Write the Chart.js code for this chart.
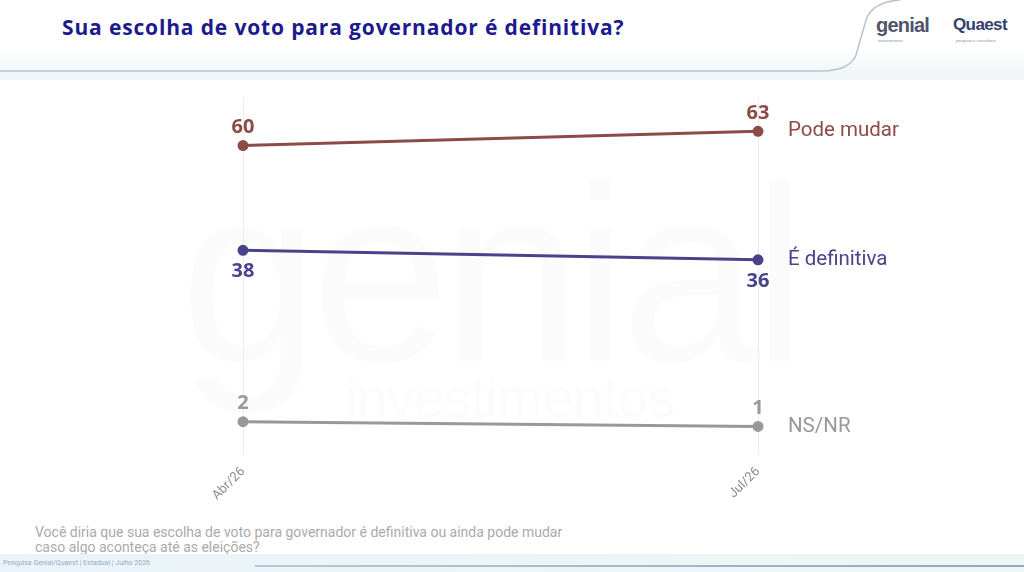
<!DOCTYPE html>
<html>
<head>
<meta charset="utf-8">
<script src="https://cdn.jsdelivr.net/npm/chart.js@4.4.1/dist/chart.umd.min.js"></script>
<style>
  html, body { margin: 0; padding: 0; }
  body { width: 1024px; height: 572px; position: relative; overflow: hidden; background: #fff; font-family: Roboto, 'Noto Sans', sans-serif; }
  .header-bg { position: absolute; left: 0; top: 0; width: 1024px; height: 80px; background: linear-gradient(180deg, #fff 0%, #fff 60%, #eef4f8 100%); }
  .title { position: absolute; left: 62px; top: 13px; font-size: 21px; font-weight: 700; color: #1c1a8e; font-family: 'Open Sans', sans-serif; letter-spacing: 0.85px; }
  .logo-genial { position: absolute; left: 876px; top: 14px; font-size: 20px; font-weight: 700; color: #50556c; font-family: 'Liberation Sans', sans-serif; letter-spacing: -0.8px; }
  .logo-quaest { position: absolute; left: 953px; top: 15px; font-size: 17px; font-weight: 700; color: #33406e; font-family: 'Liberation Sans', sans-serif; letter-spacing: -0.6px; }
  .logo-sub { position: absolute; top: 38px; font-size: 4px; color: #8890a8; font-family: 'Liberation Sans', sans-serif; }
  .watermark { position: absolute; left: 180px; top: 150px; font-size: 250px; font-weight: 400; color: rgba(0,0,0,0.017); font-family: 'Liberation Sans', sans-serif; letter-spacing: -8px; line-height: 1; }
  .watermark2 { position: absolute; left: 345px; top: 365px; font-size: 56px; color: rgba(0,0,0,0.017); font-family: 'Liberation Sans', sans-serif; letter-spacing: -1px; }
  .question { position: absolute; left: 35px; top: 525px; font-size: 14px; line-height: 15px; color: #aaa; }
  .footer-bg { position: absolute; left: 0; top: 554px; width: 1024px; height: 18px; background: linear-gradient(90deg, #eaf3f9 0%, #eef6f4 100%); }
  .footer-text { position: absolute; left: 3px; top: 559px; font-size: 7px; color: #9ab; }
  .footer-line { position: absolute; left: 255px; top: 565px; width: 769px; height: 2px; background: linear-gradient(90deg, #b8c8d6, #8fa8bc); }
  canvas { position: absolute; left: 0; top: 0; }
</style>
</head>
<body>
<div class="header-bg"></div>
<svg style="position:absolute;left:0;top:0" width="1024" height="80">
  <path d="M0 71 L820 71 Q850 71 856 55 L866 20 Q872 2 900 0" fill="none" stroke="#b9c3cc" stroke-width="1.5"/>
</svg>
<div class="title">Sua escolha de voto para governador é definitiva?</div>
<div class="logo-genial">genial</div>
<div class="logo-quaest">Quaest</div>
<div class="logo-sub" style="left:878px">investimentos</div>
<div class="logo-sub" style="left:956px">pesquisa e consultoria</div>
<div class="watermark">genial</div>
<div class="watermark2">investimentos</div>
<div class="question">Você diria que sua escolha de voto para governador é definitiva ou ainda pode mudar<br>caso algo aconteça até as eleições?</div>
<div class="footer-bg"></div>
<div class="footer-text">Pesquisa Genial/Quaest | Estadual | Julho 2026</div>
<div class="footer-line"></div>
<canvas id="chart" width="1024" height="572"></canvas>
<script>
const periods = ['Abr/26', 'Jul/26'];
const podeMudar = [60, 63];
const eDefinitiva = [38, 36];
const nsNr = [2, 1];

const seriesNames = ['Pode mudar', 'É definitiva', 'NS/NR'];
const seriesColors = ['#8c4b47', '#48438c', '#999999'];
// where the value label sits: -1 above the point, 1 below
const labelSide = [-1, 1, -1];

const valueLabels = {
  id: 'valueLabels',
  afterDatasetsDraw(chart) {
    const ctx = chart.ctx;
    ctx.save();
    chart.data.datasets.forEach((ds, i) => {
      const meta = chart.getDatasetMeta(i);
      ctx.fillStyle = ds.borderColor;
      ctx.textAlign = 'center';
      ctx.textBaseline = 'middle';
      ctx.font = '700 20px "Open Sans"';
      meta.data.forEach((pt, j) => {
        const off = labelSide[i] < 0 ? -18 : 21;
        ctx.fillText(String(ds.data[j]), pt.x, pt.y + off);
      });
      const last = meta.data[meta.data.length - 1];
      ctx.textAlign = 'left';
      ctx.font = '400 20.5px Roboto';
      ctx.fillText(ds.label, last.x + 30, last.y);
    });
    ctx.restore();
  }
};

function makeDataset(label, data, color) {
  return {
    label: label,
    data: data,
    borderColor: color,
    backgroundColor: color,
    borderWidth: 3,
    pointRadius: 4,
    pointHoverRadius: 4,
    tension: 0,
    clip: false,
  };
}

new Chart(document.getElementById('chart'), {
  type: 'line',
  data: {
    labels: periods,
    datasets: [
      makeDataset(seriesNames[0], podeMudar, seriesColors[0]),
      makeDataset(seriesNames[1], eDefinitiva, seriesColors[1]),
      makeDataset(seriesNames[2], nsNr, seriesColors[2]),
    ],
  },
  options: {
    responsive: false,
    devicePixelRatio: 1,
    animation: false,
    layout: { padding: { left: 243, right: 266, top: 98, bottom: 0 } },
    plugins: { legend: { display: false }, tooltip: { enabled: false } },
    scales: {
      x: {
        offset: false,
        grid: { color: '#ececec', drawTicks: false },
        border: { display: false },
        ticks: {
          color: '#8c8c8c',
          font: { family: 'Roboto', size: 13 },
          minRotation: 45,
          maxRotation: 45,
          padding: 9,
        },
        afterFit(scale) { scale.height = 117; },
      },
      y: {
        display: false,
        min: -5,
        max: 70,
      },
    },
  },
  plugins: [valueLabels],
});
</script>
</body>
</html>
